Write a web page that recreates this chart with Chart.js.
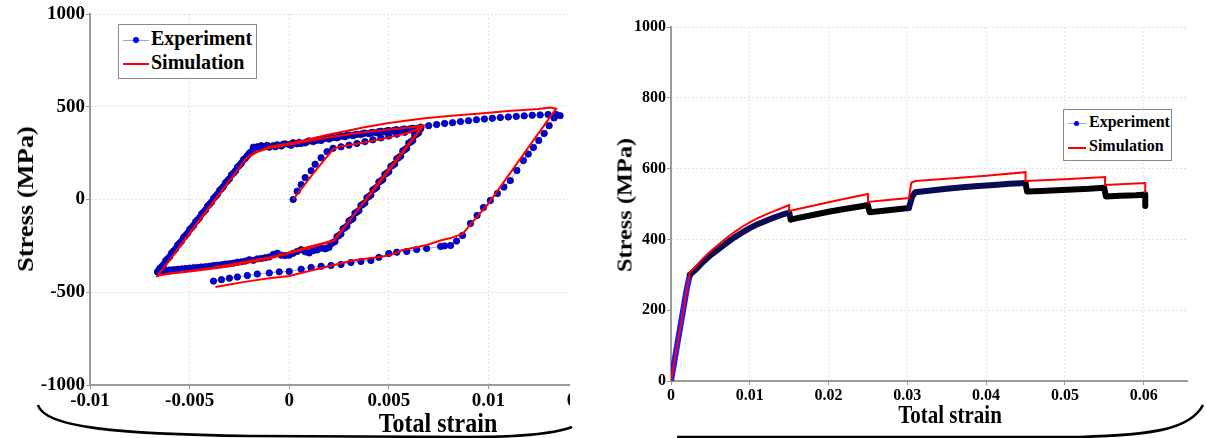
<!DOCTYPE html>
<html>
<head>
<meta charset="utf-8">
<script src="https://cdn.jsdelivr.net/npm/chart.js@4.4.1/dist/chart.umd.min.js"></script>
<style>
  body { margin: 0; background: #fff; width: 1206px; height: 438px; overflow: hidden; position: relative; font-family: "Liberation Serif", serif; }
  .wrap { position: absolute; overflow: hidden; }
  .ttl { position: absolute; font-weight: bold; white-space: nowrap; color: #000; }
  .legend { position: absolute; border: 1px solid #8a8a8a; background: #fff; font-weight: bold; box-sizing: border-box; }
  .legend .row { position: absolute; left: 0; white-space: nowrap; }
  .legend .ln { position: absolute; height: 0; }
  .legend .dot { position: absolute; border-radius: 50%; background: #0000e6; }
  svg.br { position: absolute; left: 0; top: 0; pointer-events: none; }
</style>
</head>
<body>

<div class="wrap" style="left:0;top:0;width:570px;height:425px;"><canvas id="left" width="614" height="425"></canvas></div>
<div class="wrap" style="left:600px;top:0;width:606px;height:405px;"><canvas id="right" width="606" height="405"></canvas></div>

<div class="ttl" style="left:26px;top:199px;font-size:23px;transform:translate(-50%,-50%) rotate(-90deg) scaleX(1.15);">Stress (MPa)</div>
<div class="ttl" style="left:438px;top:423px;font-size:24px;transform:translate(-50%,-50%) scaleY(1.15);">Total strain</div>
<div class="ttl" style="left:625px;top:205px;font-size:21px;transform:translate(-50%,-50%) rotate(-90deg) scaleX(1.16);">Stress (MPa)</div>
<div class="ttl" style="left:950px;top:416px;font-size:21px;transform:translate(-50%,-50%) scaleY(1.15);">Total strain</div>

<div class="legend" style="left:118px;top:24px;width:139px;height:55px;font-size:20px;">
  <div class="ln" style="left:4px;top:15px;width:26px;border-top:1px solid #9a9aff;"></div>
  <div class="dot" style="left:14px;top:12px;width:6px;height:6px;"></div>
  <div class="row" style="left:32px;top:2px;">Experiment</div>
  <div class="ln" style="left:4px;top:38px;width:26px;border-top:2px solid #ff0000;"></div>
  <div class="row" style="left:32px;top:26px;">Simulation</div>
</div>

<div class="legend" style="left:1063px;top:109px;width:109px;height:52px;font-size:16px;">
  <div class="ln" style="left:4px;top:13px;width:18px;border-top:1px solid #9a9aff;"></div>
  <div class="dot" style="left:10px;top:11px;width:5px;height:5px;"></div>
  <div class="row" style="left:25px;top:3px;">Experiment</div>
  <div class="ln" style="left:4px;top:37px;width:18px;border-top:2px solid #ff0000;"></div>
  <div class="row" style="left:25px;top:27px;">Simulation</div>
</div>

<svg class="br" width="1206" height="438">
  <path d="M38,405 C44,428 120,434 250,436 L470,437 C530,437 556,433 572,427" fill="none" stroke="#000" stroke-width="2.6"/>
  <path d="M677,437 L1080,437 C1150,435 1190,430 1203,405" fill="none" stroke="#000" stroke-width="2.6"/>
</svg>

<script>
// left panel: cyclic test, [strain, stress MPa]
const expCyclic = [
  [0.0002,0],[0.0004,45],[0.0006,80],[0.0008,118],[0.0011,155],[0.0013,190],[0.0016,225],[0.0019,258],[0.0022,276],
  [0.0026,284],[0.003,293],[0.0034,302],[0.0038,312],[0.0042,322],[0.0046,332],[0.005,342],[0.0054,352],[0.0058,362],[0.0062,372],[0.0066,382],
  [0.0064,352],[0.0061,310],[0.0058,268],[0.0055,226],[0.0052,184],[0.0049,142],[0.0046,100],[0.0043,58],[0.004,16],[0.0037,-26],[0.0034,-68],[0.0031,-110],[0.0028,-152],[0.0025,-194],[0.0022,-232],[0.0019,-262],
  [0.0014,-272],[0.0008,-282],[0.0002,-290],[-0.0004,-300],[-0.001,-310],[-0.0016,-320],[-0.0022,-332],[-0.0028,-343],[-0.0034,-352],[-0.004,-360],[-0.0046,-366],[-0.0052,-372],[-0.0058,-378],[-0.0063,-383],[-0.0066,-388],
  [-0.0064,-362],[-0.0061,-320],[-0.0058,-278],[-0.0055,-236],[-0.0052,-194],[-0.0049,-152],[-0.0046,-110],[-0.0043,-68],[-0.004,-26],[-0.0037,16],[-0.0034,58],[-0.0031,100],[-0.0028,142],[-0.0025,184],[-0.0022,222],[-0.0019,258],
  [-0.0016,284],[-0.0012,286],[-0.0008,290],[-0.0004,288],[0.0,296],[0.0004,300],[0.0008,305],[0.0012,312],[0.0016,318],[0.002,326],[0.0024,332],[0.0028,338],[0.0032,344],[0.0036,350],[0.004,355],[0.0044,360],[0.0048,365],[0.0052,370],[0.0056,374],[0.006,378],[0.0064,383],[0.0066,386],
  [0.0065,360],[0.0062,318],[0.0059,276],[0.0056,234],[0.0053,192],[0.005,150],[0.0047,108],[0.0044,66],[0.0041,24],[0.0038,-18],[0.0035,-60],[0.0032,-102],[0.0029,-144],[0.0026,-186],[0.0023,-226],[0.002,-258],
  [0.0016,-262],[0.001,-288],[0.0004,-280],[-0.0002,-302],[-0.0008,-296],[-0.0014,-318],[-0.002,-325],[-0.0026,-338],[-0.0032,-348],[-0.0038,-356],[-0.0044,-364],[-0.005,-370],[-0.0056,-376],[-0.0062,-382],[-0.0066,-392],
  [-0.0065,-372],[-0.0062,-330],[-0.0059,-288],[-0.0056,-246],[-0.0053,-204],[-0.005,-162],[-0.0047,-120],[-0.0044,-78],[-0.0041,-36],[-0.0038,6],[-0.0035,48],[-0.0032,90],[-0.0029,132],[-0.0026,174],[-0.0023,214],[-0.002,250],[-0.0018,282],
  [-0.0014,290],[-0.001,282],[-0.0006,295],[-0.0002,300],[0.0002,306],[0.0006,302],[0.001,316],[0.0014,320],[0.0018,330],[0.0022,336],[0.0026,342],[0.003,348],[0.0034,352],[0.0038,358],[0.0042,362],[0.0046,368],[0.005,372],[0.0054,376],[0.0058,380],[0.0062,384],[0.0066,388],
  [0.0063,346],[0.006,304],[0.0057,262],[0.0054,220],[0.0051,178],[0.0048,136],[0.0045,94],[0.0042,52],[0.0039,10],[0.0036,-32],[0.0033,-74],[0.003,-116],[0.0027,-158],[0.0024,-200],[0.0021,-238],[0.0018,-266],
  [0.0012,-276],[0.0006,-270],[0.0,-300],[-0.0006,-290],[-0.0012,-314],[-0.0018,-328],[-0.0024,-336],[-0.003,-346],[-0.0036,-354],[-0.0042,-362],[-0.0048,-368],[-0.0054,-374],[-0.006,-380],[-0.0065,-386],
  [-0.0063,-350],[-0.006,-308],[-0.0057,-266],[-0.0054,-224],[-0.0051,-182],[-0.0048,-140],[-0.0045,-98],[-0.0042,-56],[-0.0039,-14],[-0.0036,28],[-0.0033,70],[-0.003,112],[-0.0027,154],[-0.0024,196],[-0.0021,236],[-0.0018,270],
  [-0.0015,280],[-0.0011,292],[-0.0007,284],[-0.0003,298],[0.0001,292],[0.0005,308],[0.0009,312],[0.0013,318],[0.0017,326],[0.0021,332],[0.0025,340],[0.0029,346],[0.0033,350],[0.0037,356],[0.0041,360],[0.0045,366],[0.0049,370],[0.0053,374],[0.0057,378],[0.0061,382],[0.0066,390],
  [0.007,398],[0.0074,404],[0.0078,410],[0.0082,414],[0.0086,420],[0.009,425],[0.0094,430],[0.0098,434],[0.0102,438],[0.0106,442],[0.011,445],[0.0114,448],[0.0118,451],[0.0122,454],[0.0126,456],[0.013,458],[0.0134,458],[0.0136,452],
  [0.0133,440],[0.01305,398],[0.0128,356],[0.01253,318],[0.01226,280],[0.012,245],[0.01176,210],[0.01143,156],[0.0111,102],[0.01078,67],[0.01045,32],[0.0101,-5],[0.00975,-43],[0.00943,-86],[0.0091,-129],[0.0087,-194],[0.0084,-224],[0.0081,-248],[0.0078,-250],[0.0076,-253],
  [0.0069,-264],[0.0064,-270],[0.0059,-280],[0.0054,-284],[0.005,-291],[0.0045,-312],[0.0041,-329],[0.0036,-334],[0.0031,-340],[0.0026,-350],[0.0021,-356],[0.0016,-360],[0.0011,-366],[0.0006,-376],[0.0,-388],
  [-0.0005,-390],[-0.001,-396],[-0.0016,-402],[-0.0021,-410],[-0.0026,-418],[-0.003,-424],[-0.0034,-432],[-0.0038,-440]
];
const simCyclic = [
  [0.0002,0],[0.0012,140],[0.0022,270],[0.0025,285],
  [0.003,292],[0.004,312],[0.005,335],[0.006,360],[0.0067,392],
  [0.0044,70],[0.0022,-225],
  [0.0015,-245],[0.001,-262],[0.0,-290],[-0.001,-318],[-0.002,-338],[-0.003,-360],[-0.004,-375],[-0.005,-388],[-0.006,-400],[-0.0066,-410],
  [-0.0044,-100],[-0.0022,215],
  [-0.0018,250],[-0.001,278],[0.0,295],[0.001,315],[0.002,335],[0.003,352],[0.004,365],[0.005,378],[0.006,388],[0.0067,398],
  [0.0044,80],[0.0023,-218],
  [0.0016,-238],[0.001,-255],[0.0,-285],[-0.001,-312],[-0.002,-332],[-0.003,-352],[-0.004,-370],[-0.005,-385],[-0.006,-398],[-0.0066,-412],
  [-0.0044,-95],[-0.0021,226],
  [-0.0015,262],[-0.001,285],[0.0,302],[0.001,325],[0.002,350],[0.003,372],[0.0037,388],[0.005,412],[0.0067,437],[0.008,450],[0.0096,463],[0.011,477],[0.0125,488],[0.0131,496],[0.0134,490],
  [0.012,280],[0.01,-22],[0.0087,-185],[0.0081,-208],
  [0.0076,-221],[0.0069,-245],[0.0056,-275],[0.0051,-300],[0.0045,-310],[0.0031,-330],[0.002,-360],[0.001,-385],[0.0,-412],[-0.001,-425],[-0.002,-440],[-0.003,-458],[-0.0037,-472]
];
const strainTicksLeft = [-0.01, -0.005, 0, 0.005, 0.01, 0.015];
const stressTicksLeft = [-1000, -500, 0, 500, 1000];

// right panel: monotonic test with relaxation steps
const expTensile = [
  [0,0],[0.0005,65],[0.001,130],[0.0015,195],[0.002,260],[0.0024,300],[0.003,312],[0.004,335],[0.005,355],[0.006,372],[0.007,389],[0.008,405],[0.009,419],[0.01,432],[0.011,443],[0.012,452],[0.013,461],[0.014,469],[0.015,476],
  [0.0152,456],[0.016,460],[0.018,469],[0.02,478],[0.022,486],[0.024,493],[0.025,497],
  [0.0252,477],[0.027,481],[0.029,486],[0.0302,489],
  [0.0306,520],[0.031,533],[0.033,538],[0.035,543],[0.037,547],[0.039,551],[0.041,554],[0.043,557],[0.045,559],
  [0.0452,535],[0.047,537],[0.049,539],[0.051,541],[0.053,543],[0.055,546],
  [0.0552,521],[0.057,523],[0.059,525],[0.0602,527],[0.0602,494]
];
const simTensile = [
  [0,0],[0.0024,308],[0.003,320],[0.004,345],[0.005,366],[0.006,385],[0.007,403],[0.008,420],[0.009,435],[0.01,448],[0.011,460],[0.012,470],[0.013,479],[0.014,488],[0.015,497],
  [0.015,480],[0.017,490],[0.019,500],[0.021,510],[0.023,519],[0.025,528],
  [0.025,506],[0.0275,511],[0.0302,517],
  [0.0305,560],[0.031,565],[0.035,571],[0.04,580],[0.045,590],
  [0.045,565],[0.05,570],[0.0551,576],
  [0.0551,554],[0.0602,559],[0.0602,531]
];
const strainTicksRight = [0, 0.01, 0.02, 0.03, 0.04, 0.05, 0.06];
const stressTicksRight = [0, 200, 400, 600, 800, 1000];

const pts = arr => arr.map(p => ({ x: p[0], y: p[1] }));
const tickFont = size => ({ family: "Liberation Serif", weight: "bold", size: size });
const fmt = v => String(+v.toFixed(4));

function axis(min, max, values, size, pad, fit) {
  return {
    type: "linear", min: min, max: max,
    afterBuildTicks: s => { s.ticks = values.map(v => ({ value: v })); },
    afterFit: fit,
    ticks: { color: "#000", font: tickFont(size), padding: pad, callback: fmt, autoSkip: false, maxRotation: 0 },
    grid: { color: "#e2e2e2", lineWidth: 1, tickLength: 4, tickColor: "#999" },
    border: { color: "#9a9a9a", width: 2, dash: [2, 2] }
  };
}

const common = {
  responsive: false,
  animation: false,
  plugins: { legend: { display: false }, tooltip: { enabled: false } },
  elements: { line: { tension: 0 } }
};

new Chart(document.getElementById("left"), {
  type: "scatter",
  data: {
    datasets: [
      { label: "Simulation", data: pts(simCyclic), showLine: true, borderColor: "#ff0000", borderWidth: 2, pointRadius: 0, order: 0 },
      { label: "Experiment", data: pts(expCyclic), showLine: true, borderColor: "rgba(90,90,255,0.55)", borderWidth: 1,
        pointRadius: 3.2, pointBackgroundColor: "#0000e6", pointBorderColor: "#00006a", pointBorderWidth: 0.8, order: 1 }
    ]
  },
  options: Object.assign({}, common, {
    layout: { padding: { top: 14, right: 26, left: 0, bottom: 0 } },
    scales: {
      x: axis(-0.01, 0.015, strainTicksLeft, 19, 1, s => { s.height = 40; }),
      y: axis(-1000, 1000, stressTicksLeft, 19, 1, s => { s.width = 90; })
    }
  })
});

new Chart(document.getElementById("right"), {
  type: "scatter",
  data: {
    datasets: [
      { label: "Simulation", data: pts(simTensile), showLine: true, borderColor: "#ff0000", borderWidth: 2, pointRadius: 0, order: 0 },
      { label: "Experiment", data: pts(expTensile), showLine: true, borderColor: "#000", borderWidth: 6, pointRadius: 0,
        borderJoinStyle: "round", borderCapStyle: "round",
        segment: {
          borderColor: c => {
            const x = c.p0.parsed.x;
            if (x < 0.0024) return "#1e1eff";
            if (x < 0.0151 || (x >= 0.0302 && x < 0.045)) return "#0b0b55";
            return "#000";
          }
        },
        order: 1 }
    ]
  },
  options: Object.assign({}, common, {
    layout: { padding: { top: 27, right: 19, left: 0, bottom: 0 } },
    scales: {
      x: axis(0, 0.0655, strainTicksRight, 16, 1, s => { s.height = 24; }),
      y: axis(0, 1000, stressTicksRight, 16, 1, s => { s.width = 71; })
    }
  })
});
</script>
</body>
</html>
